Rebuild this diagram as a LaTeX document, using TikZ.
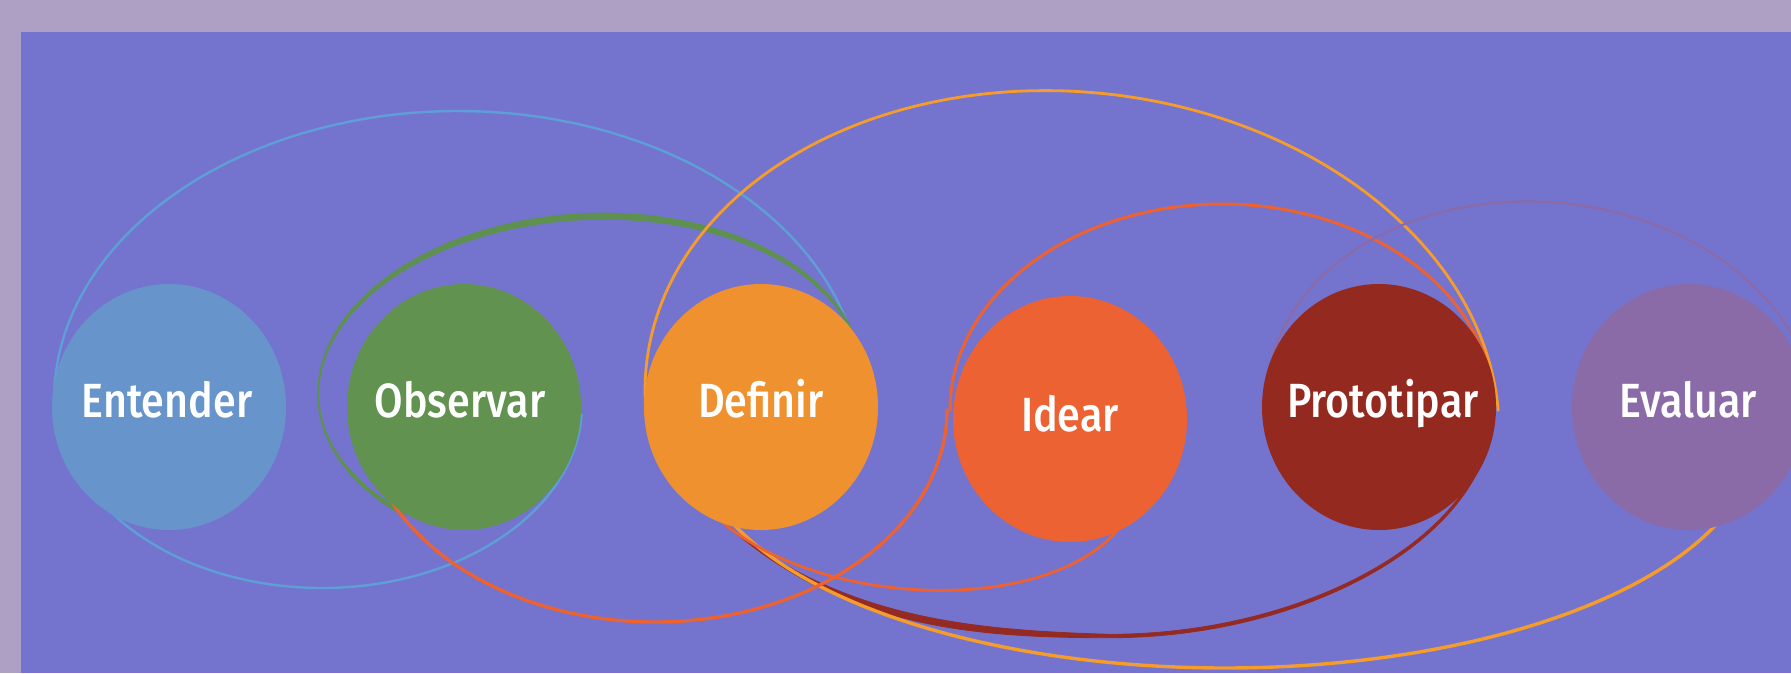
\documentclass[tikz,border=0pt]{standalone}
\usepackage{fontspec}
\newfontfamily\stagefont{Fira Sans Medium}[FakeStretch=0.86]
\usetikzlibrary{shapes.geometric}

\definecolor{frame}{HTML}{ADA0C4}
\definecolor{panel}{HTML}{7474CF}
\definecolor{cEnt}{HTML}{6794CA}
\definecolor{cObs}{HTML}{619250}
\definecolor{cDef}{HTML}{F0912F}
\definecolor{cIde}{HTML}{EC6232}
\definecolor{cPro}{HTML}{93291F}
\definecolor{cEva}{HTML}{8A6BA7}
\definecolor{rBlue}{HTML}{5E9FD6}
\definecolor{rGreen}{HTML}{5E9150}
\definecolor{rOrange}{HTML}{F59C2B}
\definecolor{rRed}{HTML}{EE6230}
\definecolor{rDark}{HTML}{952A22}
\definecolor{rPurple}{HTML}{8C6AA8}

\tikzset{
  stage/.style={ellipse, minimum width=234pt, minimum height=246pt, inner sep=0pt, draw=none},
  stagetext/.style={text=white, font=\stagefont\fontsize{48}{52}\selectfont, anchor=base, inner sep=0pt},
  ring/.style={line width=2.6pt, line cap=round, line join=round},
  arcplot/.style={samples=120, smooth},
}

\begin{document}
\begin{tikzpicture}[x=1pt, y=-1pt]
\useasboundingbox (0,0) rectangle (1791,673);
\fill[frame] (0,0) rectangle (1791,673);
\fill[panel] (21,32) rectangle (1791,673);

% ---- rings, drawn behind the stages ----
% Entender: lower and upper elliptic arcs
\draw[ring, rBlue, line width=2.4pt] plot[arcplot, domain=3:180]
  ({322+260*cos(\x)}, {405+183*sin(\x)});
\draw[ring, rBlue, line width=2.4pt] plot[arcplot, domain=180:350]
  ({458+404*cos(\x)}, {400+289*sin(\x)});

% Observar: tapering crescent
\fill[rGreen] plot[arcplot, domain=135:355]
  ({590+273*cos(\x)*cos(-3)-172*sin(\x)*sin(-3)}, {385+273*cos(\x)*sin(-3)+172*sin(\x)*cos(-3)})
  -- plot[arcplot, domain=355:135]
  ({590+271*cos(\x)*cos(-3)-165*sin(\x)*sin(-3)}, {385+271*cos(\x)*sin(-3)+165*sin(\x)*cos(-3)})
  -- cycle;

% Prototipar: one tapering crescent from under Definir to Prototipar
\fill[rDark, draw=rDark, line width=0.8pt, line join=round]
  (712,512) .. controls (830,616) and (960,630) .. (1110,634.3)
            .. controls (1280,634.2) and (1440,560) .. (1481,459)
  -- (1482,462) .. controls (1440,563) and (1280,637.8) .. (1110,637.7)
            .. controls (960,638) and (830,624) .. (712,512) -- cycle;

% Definir: upper arc and lower arc
\draw[ring, rOrange, line width=2.8pt] plot[arcplot, domain=172:352]
  ({1072+428*cos(\x)*cos(6)-318*sin(\x)*sin(6)}, {410+428*cos(\x)*sin(6)+318*sin(\x)*cos(6)});
\draw[ring, rOrange, line width=3.4pt] plot[arcplot, domain=20:160]
  ({1225+530*cos(\x)}, {438+230*sin(\x)});

% Idear: long swoop (lower arc + upper arc) and short lower arc
\draw[ring, rRed, line width=3.3pt] plot[arcplot, domain=170:0]
  ({655+292*cos(\x)}, {410+212*sin(\x)});
\draw[ring, rRed, line width=3pt] plot[arcplot, domain=180:358]
  ({1222+272*cos(\x)}, {410+206*sin(\x)});
\draw[ring, rRed, line width=2.8pt] (705,505) .. controls (800,612) and (1060,620) .. (1125,520);

% Evaluar
\draw[ring, rPurple, line width=2.2pt] plot[arcplot, domain=183:345]
  ({1541+275*cos(\x)*cos(5)-208*sin(\x)*sin(5)}, {410+275*cos(\x)*sin(5)+208*sin(\x)*cos(5)});

% ---- stages ----
\node[stage, fill=cEnt] (ent) at (169,407) {};
\node[stage, fill=cObs] (obs) at (464,407) {};
\node[stage, fill=cDef] (def) at (761,407) {};
\node[stage, fill=cIde] (ide) at (1070,419) {};
\node[stage, fill=cPro] (pro) at (1379,407) {};
\node[stage, fill=cEva] (eva) at (1689,407) {};

\node[stagetext] (tEnt) at (167,417) {Entender};
\node[stagetext] (tObs) at (460,417) {Observar};
\node[stagetext] (tDef) at (761,417) {Definir};
\node[stagetext] (tIde) at (1070,431) {Idear};
\node[stagetext] (tPro) at (1383,417) {Prototipar};
\node[stagetext] (tEva) at (1688,417) {Evaluar};
\end{tikzpicture}
\end{document}
